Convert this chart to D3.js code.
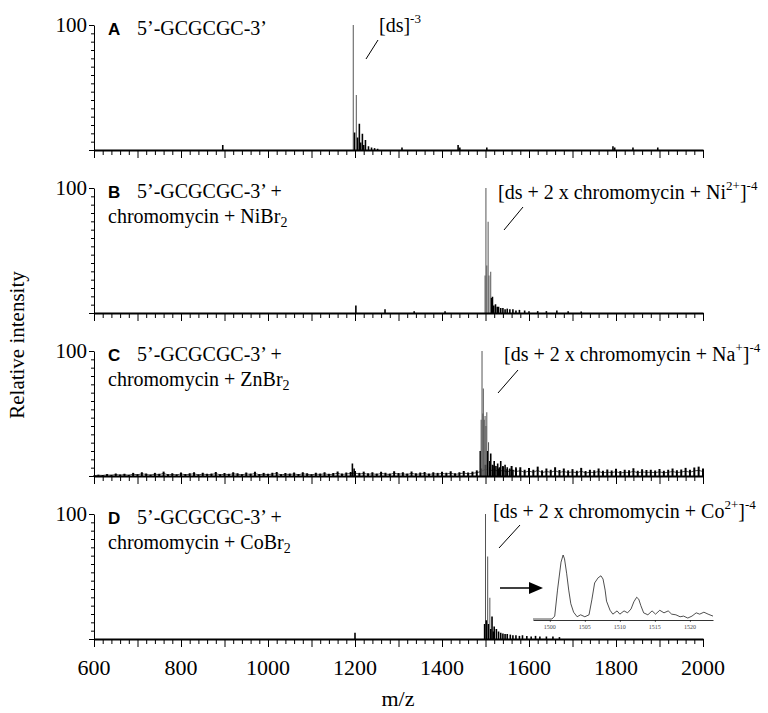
<!DOCTYPE html>
<html>
<head>
<meta charset="utf-8">
<script src="https://cdn.jsdelivr.net/npm/d3@7/dist/d3.min.js"></script>
<style>
html,body{margin:0;padding:0;background:#fff;}
svg{display:block;}
</style>
</head>
<body>
<svg id="chart" width="768" height="713"></svg>
<script>
// ---------------- DATA ----------------
const xTickLabels = [600, 800, 1000, 1200, 1400, 1600, 1800, 2000];
const yTopLabel = "100";
const panelLetters = ["A", "B", "C", "D"];
const sampleLine1 = ["5’-GCGCGC-3’", "5’-GCGCGC-3’ +", "5’-GCGCGC-3’ +", "5’-GCGCGC-3’ +"];
const sampleLine2 = [null, ["chromomycin + NiBr", "2"], ["chromomycin + ZnBr", "2"], ["chromomycin + CoBr", "2"]];
// ion annotations: [text, isSuperscript]
const ionLabels = [
  [["[ds]", false], ["-3", true]],
  [["[ds + 2 x chromomycin + Ni", false], ["2+", true], ["]", false], ["-4", true]],
  [["[ds + 2 x chromomycin + Na", false], ["+", true], ["]", false], ["-4", true]],
  [["[ds + 2 x chromomycin + Co", false], ["2+", true], ["]", false], ["-4", true]]
];

// peaks: [m/z, relative intensity]
const peaksA = [[896,4],[1196,100],[1199,14],[1203,44],[1206,10],[1210,21],[1213,6],[1217,13],[1220,4],[1224,8],[1231,3],[1238,2],[1245,1.5],[1252,1],[1308,2],[1437,4],[1441,2],[1503,2],[1793,3],[1797,2],[1839,2],[1896,2]];
const peaksB = [[1202,6],[1269,3],[1336,1.5],[1407,1.5],[1499,30],[1501,100],[1503,38],[1506,73],[1508,30],[1512,33],[1514,12],[1516,13],[1519,6],[1523,7],[1527,5],[1530,5],[1535,4],[1540,4],[1545,3],[1550,3.5],[1556,3],[1563,3],[1570,2],[1578,2.5],[1590,2],[1600,1.5],[1620,1.5],[1640,1.5],[1664,2],[1690,1.5],[1720,1.2]];
const peaksC = [[1194,10],[1198,6],[1488,20],[1490,45],[1492,100],[1494,50],[1495,70],[1497,45],[1499,48],[1501,40],[1503,51],[1505,20],[1507,27],[1510,12],[1512,18],[1516,9],[1520,12],[1524,8],[1528,10],[1532,7],[1535,12],[1540,8],[1545,9],[1550,7],[1556,6],[1563,5],[1570,7],[1580,5]];
const peaksD = [[1200,5],[1498,12],[1500,100],[1502,15],[1505,66],[1507,12],[1510,33],[1512,8],[1515,18],[1518,6],[1520,10],[1525,8],[1530,6],[1535,5],[1540,4.5],[1545,4],[1550,4],[1557,3.5],[1563,3],[1570,3],[1578,2.5],[1585,3],[1595,2.5],[1605,2],[1615,2.5],[1625,2],[1640,2],[1655,2],[1670,1.5]];

// baseline noise of panel C, m/z 600..2000 every 10
const noiseMzC = d3.range(600, 2001, 10);
const noiseC = [
  0.5,1,0.8,1.5,1,2,1.2,1.8,1,2.5,
  1.5,3,2,1.2,2.5,1.8,3.5,1.5,2.2,1.4,
  2.8,1.6,2.2,3,1.4,2.6,1.8,2,3.2,1.5,
  2.4,1.8,3,2.2,1.5,2.8,2,3.4,1.6,2.5,
  1.8,2.6,3.2,1.5,2.4,2,2.8,1.6,3,2.2,
  1.5,2.6,2,3,1.8,2.4,3.6,2,2.8,3.2,
  4,2.5,3.5,2.2,3,2,3.4,2.6,2,3.8,
  2.4,3,2,3.6,2.2,2.8,3.2,2,3,2.5,
  3.4,2.6,3.8,2.2,3,4,2.8,3.5,4.5,6,
  9,7,8.5,6,7.5,5.5,8,6,7,5,
  6.5,5,7.5,4.5,6,5,7,4.8,6,4.5,
  5.5,4.2,6.5,4,5,4.6,6,4.2,5.2,4.4,
  5.8,4,5,4.6,6.2,4.2,5.4,4.8,5,4.4,
  5.6,4.2,5,6,4.6,5.2,6.5,5,6.8,7.5,
  6
];

// inset profile (panel D), m/z and relative intensity
const insetMz = [1497.6,1500.3,1500.7,1501.1,1501.6,1501.9,1502.1,1502.4,1502.7,1503.0,1503.4,1503.9,1504.4,1505.0,1505.6,1506.0,1506.4,1506.9,1507.3,1507.6,1507.9,1508.1,1508.6,1509.0,1509.6,1510.0,1510.6,1511.1,1511.6,1512.0,1512.4,1512.7,1513.0,1513.4,1514.0,1514.6,1515.1,1515.7,1516.3,1516.9,1517.4,1518.0,1518.6,1519.1,1519.7,1520.3,1520.9,1521.4,1522.0,1522.6,1523.3];
const insetI  = [1.5,1.5,6,46,89,100,94,72,46,25,12,5,8,5,8,31,57,65,68,63,46,29,15,9,14,9,14,11,17,28,35,32,22,11,8,14,9,15,11,14,9,8,5,6,3,6,11,9,12,9,6];
const insetTickLabels = [1500, 1505, 1510, 1515, 1520];

const allPeaks = [peaksA, peaksB, peaksC, peaksD];

// ---------------- LAYOUT ----------------
const SERIF = "'Liberation Serif', 'Times New Roman', Times, 'DejaVu Serif', serif";
const SANS = "'Liberation Sans', Arial, Helvetica, sans-serif";
const svg = d3.select("#chart");
const x = d3.scaleLinear().domain([600, 2000]).range([94, 703]);
const panelTops = [25, 188, 351, 514];
const panelH = 125;
const majorTicks = d3.range(600, 2001, 100);
const minorTicks = d3.range(600, 2001, 20).filter(v => v % 100 !== 0);
const yMinor = d3.range(0, 16).map(i => i * 100 / 15);

const annot = [
  {tx: 379, ty: 32, l: [378, 40, 366, 59]},
  {tx: 498, ty: 199, l: [523, 207, 504, 230]},
  {tx: 504, ty: 361, l: [518, 370, 498, 393]},
  {tx: 493, ty: 518, l: [520, 525, 499, 548]}
];

function serifText(parent) {
  return parent.append("text").style("font-family", SERIF).attr("fill", "#000");
}

function addRich(sel, segs, size, supSize, supShift) {
  let shift = 0;
  segs.forEach(([t, sup]) => {
    const target = sup ? -supShift : 0;
    sel.append("tspan")
      .attr("dy", target - shift)
      .attr("font-size", sup ? supSize : size)
      .text(t);
    shift = target;
  });
}

panelTops.forEach((top, i) => {
  const y = d3.scaleLinear().domain([0, 100]).range([top + panelH, top]);
  const g = svg.append("g");
  const base = top + panelH;

  // y axis
  const ya = g.append("g").attr("transform", `translate(${x.range()[0]},0)`)
    .call(d3.axisLeft(y).tickValues(yMinor).tickSize(3).tickSizeOuter(0).tickFormat(""));
  ya.selectAll("line").attr("stroke", "#000");
  ya.select(".domain").attr("stroke", "#000");
  ya.selectAll(".tick").filter(d => d === 0 || d === 100).select("line").attr("x2", -5);

  serifText(g).attr("x", 87).attr("y", top + 7).attr("text-anchor", "end")
    .attr("font-size", 21).text(yTopLabel);

  // noise (panel C) as dense sticks
  if (i === 2) {
    g.append("g").selectAll("line").data(noiseMzC.map((m, k) => [m, noiseC[k]])).join("line")
      .attr("x1", d => x(d[0])).attr("x2", d => x(d[0]))
      .attr("y1", y(0)).attr("y2", d => y(d[1]))
      .attr("stroke", "#000").attr("stroke-width", 2);
    g.append("path").datum(noiseMzC.map((m, k) => [m, noiseC[k]]))
      .attr("fill", "none").attr("stroke", "#000").attr("stroke-width", 0.7)
      .attr("d", d3.line().x(d => x(d[0])).y(d => y(d[1] * 0.6)));
  }

  // peaks
  g.append("g").selectAll("line").data(allPeaks[i]).join("line")
    .attr("x1", d => x(d[0])).attr("x2", d => x(d[0]))
    .attr("y1", y(0)).attr("y2", d => y(d[1]))
    .attr("stroke", d => d[1] > 25 ? "#555" : "#000")
    .attr("stroke-width", d => d[1] > 25 ? 1 : 1.6);

  // x axis: minor and major ticks
  const xm = g.append("g").attr("transform", `translate(0,${base})`)
    .call(d3.axisBottom(x).tickValues(minorTicks).tickSize(5).tickSizeOuter(0).tickFormat(""));
  xm.select(".domain").remove();
  xm.selectAll("line").attr("stroke", "#000");
  const xM = g.append("g").attr("transform", `translate(0,${base})`)
    .call(d3.axisBottom(x).tickValues(majorTicks).tickSize(8).tickSizeOuter(0).tickFormat(""));
  xM.select(".domain").attr("stroke", "#000").attr("stroke-width", 2.2);
  xM.selectAll("line").attr("stroke", "#000");

  // panel title
  g.append("text").attr("x", 108).attr("y", top + 10)
    .style("font-family", SANS)
    .attr("font-weight", "bold").attr("font-size", 17).text(panelLetters[i]);
  serifText(g).attr("x", 137).attr("y", top + 10).attr("font-size", 20).text(sampleLine1[i]);
  if (sampleLine2[i]) {
    const t2 = serifText(g).attr("x", 108).attr("y", top + 35).attr("font-size", 20);
    t2.append("tspan").text(sampleLine2[i][0]);
    t2.append("tspan").attr("dy", 4).attr("font-size", 14).text(sampleLine2[i][1]);
  }

  // ion annotation
  const a = annot[i];
  const t = serifText(g).attr("x", a.tx).attr("y", a.ty).attr("font-size", 20);
  addRich(t, ionLabels[i], 20, 13, 9);
  g.append("line").attr("x1", a.l[0]).attr("y1", a.l[1]).attr("x2", a.l[2]).attr("y2", a.l[3])
    .attr("stroke", "#000").attr("stroke-width", 1);

  if (i === 3) {
    g.selectAll("text.xl").data(xTickLabels).join("text").attr("class", "xl")
      .style("font-family", SERIF).attr("fill", "#000")
      .attr("x", d => x(d)).attr("y", 675).attr("text-anchor", "middle")
      .attr("font-size", 22).text(d => d);

    // arrow
    g.append("line").attr("x1", 500).attr("y1", 588).attr("x2", 531).attr("y2", 588)
      .attr("stroke", "#000").attr("stroke-width", 1.5);
    g.append("path").attr("d", "M529,582 L543,588 L529,594 Z").attr("fill", "#000");

    // inset
    const xi = d3.scaleLinear().domain([1497.6, 1523.3]).range([533, 713]);
    const yi = d3.scaleLinear().domain([0, 100]).range([620, 555]);
    const ia = g.append("g").attr("transform", "translate(0,620)")
      .call(d3.axisBottom(xi).tickValues(d3.range(1500, 1521, 5)).tickSize(2).tickSizeOuter(0).tickFormat(""));
    ia.select(".domain").attr("stroke", "#000").attr("stroke-width", 0.8);
    ia.selectAll("line").attr("stroke", "#000").attr("stroke-width", 0.6);
    g.selectAll("text.il").data(insetTickLabels).join("text").attr("class", "il")
      .style("font-family", SERIF)
      .attr("x", d => xi(d)).attr("y", 629).attr("text-anchor", "middle")
      .attr("font-size", 6).attr("fill", "#444").text(d => d);
    g.append("path").datum(insetMz.map((m, k) => [m, insetI[k]]))
      .attr("fill", "none").attr("stroke", "#222").attr("stroke-width", 0.8)
      .attr("d", d3.line().x(d => xi(d[0])).y(d => yi(d[1])));
  }
});

// axis titles
serifText(svg).attr("x", 398).attr("y", 706).attr("text-anchor", "middle")
  .attr("font-size", 22).text("m/z");
serifText(svg).attr("transform", "translate(24,345) rotate(-90)")
  .attr("text-anchor", "middle").attr("font-size", 21).text("Relative intensity");
</script>
</body>
</html>
